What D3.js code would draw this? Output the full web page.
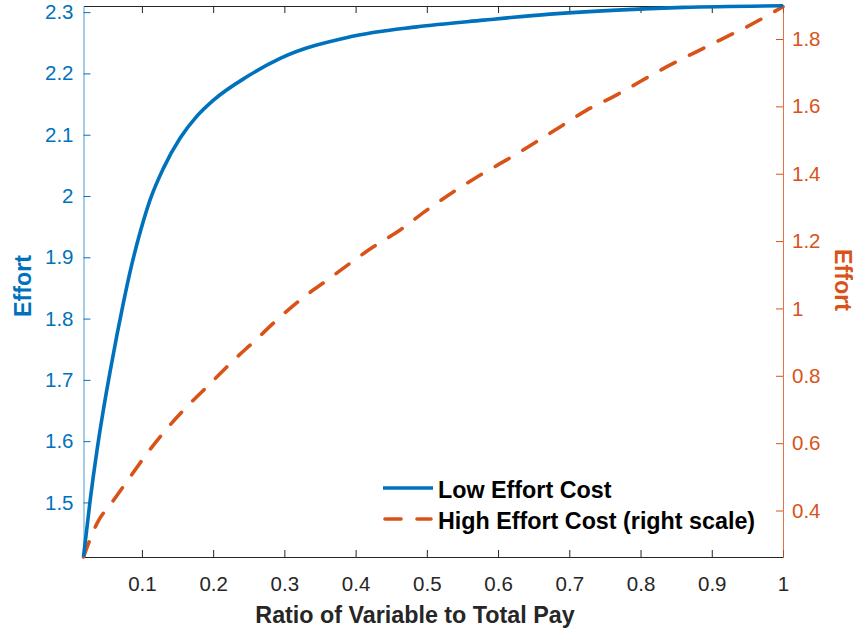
<!DOCTYPE html>
<html><head><meta charset="utf-8">
<script src="https://cdn.jsdelivr.net/npm/d3@7"></script>
<style>body{margin:0;background:#fff}svg{display:block}text{font-family:"Liberation Sans",Arial,Helvetica,sans-serif}</style>
</head><body>
<script>
const xTicks = [0.1,0.2,0.3,0.4,0.5,0.6,0.7,0.8,0.9,1];
const leftTicks = [1.5,1.6,1.7,1.8,1.9,2,2.1,2.2,2.3];
const rightTicks = [0.4,0.6,0.8,1,1.2,1.4,1.6,1.8];
const lowX = [0.018,0.0274,0.0368,0.0461,0.0555,0.0649,0.0742,0.0836,0.0976,0.1116,0.1303,0.1537,0.1772,0.2005,0.2473,0.2941,0.3923,0.4859,0.5794,0.673,0.7666,0.86,1.0];
const lowY = [1.4114,1.5039,1.5839,1.6524,1.7144,1.7731,1.8269,1.8775,1.9411,1.9941,2.0455,2.0945,2.1303,2.1564,2.1945,2.2245,2.2597,2.276,2.2869,2.2967,2.3033,2.3077,2.3103];
const highX = [0.018,0.0368,0.060,0.0836,0.107,0.135,0.163,0.196,0.2286,0.257,0.289,0.322,0.360,0.425,0.4625,0.5,0.537,0.575,0.612,0.650,0.687,0.7245,0.762,0.799,0.837,0.874,0.9115,0.949,1.0];
const highY = [0.262,0.361,0.430,0.500,0.569,0.643,0.708,0.777,0.846,0.901,0.965,1.025,1.084,1.183,1.233,1.292,1.346,1.396,1.441,1.490,1.539,1.589,1.629,1.673,1.718,1.7575,1.797,1.836,1.896];
const seriesNames = ["Low Effort Cost","High Effort Cost (right scale)"];
const xLabel = "Ratio of Variable to Total Pay";
const yLabel = "Effort";

const W=857,H=632, L=83.5,R=783,T=6,B=557;
const blue="#0072BD", orange="#D95319", dark="#262626";
const svg=d3.select("body").append("svg").attr("width",W).attr("height",H);
const x=d3.scaleLinear().domain([0.018,1]).range([L,R]);
const yl=d3.scaleLinear().domain([1.411,2.31]).range([B,T]);
const yr=d3.scaleLinear().domain([0.262,1.898]).range([B,T]);
const fmt=d=>String(+d.toFixed(1));

// bottom axis
const gb=svg.append("g").attr("transform",`translate(0,${B})`)
 .call(d3.axisBottom(x).tickValues(xTicks).tickSizeInner(-7).tickSizeOuter(0).tickPadding(19).tickFormat(fmt));
gb.select(".domain").attr("stroke",dark);
gb.selectAll(".tick line").attr("stroke",dark);
gb.selectAll("text").attr("fill",dark).attr("font-size",20.5);
// top axis
const gt=svg.append("g").attr("transform",`translate(0,${T})`)
 .call(d3.axisTop(x).tickValues(xTicks).tickSizeInner(-7).tickSizeOuter(0).tickFormat(""));
gt.select(".domain").attr("stroke",dark);
gt.selectAll(".tick line").attr("stroke",dark);
// left axis
const gl=svg.append("g").attr("transform",`translate(${L},0)`)
 .call(d3.axisLeft(yl).tickValues(leftTicks).tickSizeInner(-7).tickSizeOuter(0).tickPadding(10).tickFormat(fmt));
gl.select(".domain").attr("stroke",blue).attr("stroke-opacity",0.7);
gl.selectAll(".tick line").attr("stroke",blue);
gl.selectAll("text").attr("fill",blue).attr("font-size",20.5);
// right axis
const gr=svg.append("g").attr("transform",`translate(${R},0)`)
 .call(d3.axisRight(yr).tickValues(rightTicks).tickSizeInner(-7).tickSizeOuter(0).tickPadding(9).tickFormat(fmt));
gr.select(".domain").attr("stroke",orange).attr("stroke-opacity",0.8);
gr.selectAll(".tick line").attr("stroke",orange);
gr.selectAll("text").attr("fill",orange).attr("font-size",20.5);

// lines
const lowData=lowX.map((v,i)=>[v,lowY[i]]);
const highData=highX.map((v,i)=>[v,highY[i]]);
svg.append("path").datum(highData).attr("fill","none").attr("stroke",orange).attr("stroke-width",3.6)
 .attr("stroke-dasharray","16,16").attr("stroke-linecap","round")
 .attr("d",d3.line().x(d=>x(d[0])).y(d=>yr(d[1])).curve(d3.curveMonotoneX));
svg.append("path").datum(lowData).attr("fill","none").attr("stroke",blue).attr("stroke-width",3.6)
 .attr("d",d3.line().x(d=>x(d[0])).y(d=>yl(d[1])).curve(d3.curveMonotoneX));

// labels
svg.append("text").attr("x",415).attr("y",623).attr("text-anchor","middle").attr("font-size",23.3).attr("font-weight","bold").attr("fill",dark).text(xLabel);
svg.append("text").attr("transform","translate(31,286) rotate(-90)").attr("text-anchor","middle").attr("font-size",23.3).attr("font-weight","bold").attr("fill",blue).text(yLabel);
svg.append("text").attr("transform","translate(835,280) rotate(90)").attr("text-anchor","middle").attr("font-size",23.3).attr("font-weight","bold").attr("fill",orange).text(yLabel);

// legend
const leg=[{n:seriesNames[0],c:blue,dash:null,y:488},{n:seriesNames[1],c:orange,dash:"16,16",y:519}];
leg.forEach(d=>{
  svg.append("line").attr("x1",d.dash?385:383).attr("x2",d.dash?431:433).attr("y1",d.y).attr("y2",d.y).attr("stroke",d.c).attr("stroke-width",3.6)
   .attr("stroke-linecap",d.dash?"round":"butt").attr("stroke-dasharray",d.dash);
  svg.append("text").attr("x",438).attr("y",d.y+9.5).attr("font-size",23.3).attr("font-weight","bold").attr("fill","#000").text(d.n);
});
</script>
</body></html>
